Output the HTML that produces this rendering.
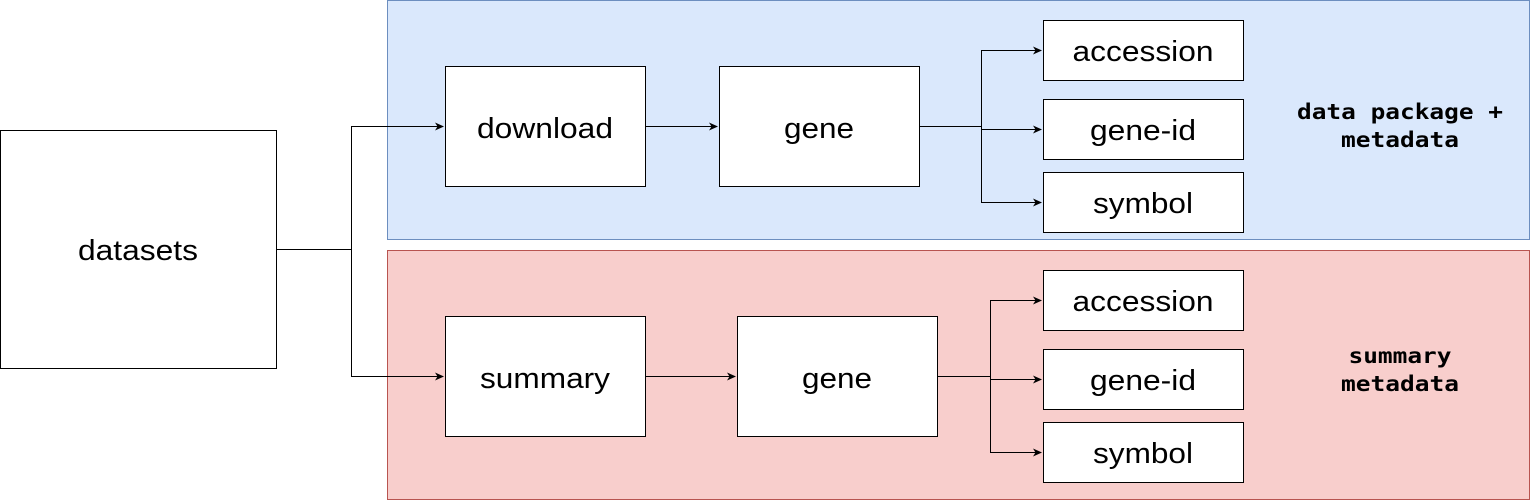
<!DOCTYPE html>
<html><head><meta charset="utf-8"><style>html,body{margin:0;padding:0;background:#fff}svg{display:block}</style></head>
<body>
<svg width="1531" height="501" viewBox="0 0 1531 501" xmlns="http://www.w3.org/2000/svg">
<defs><marker id="a" markerWidth="10" markerHeight="10" refX="8" refY="4" orient="auto" markerUnits="userSpaceOnUse"><path d="M0,0 L9,4 L0,8 L2.5,4 Z" fill="#000"/></marker></defs>
<rect x="387.5" y="0.5" width="1142" height="239" fill="#dae8fc" stroke="#6c8ebf"/>
<rect x="387.5" y="250.5" width="1142" height="249" fill="#f8cecc" stroke="#b85450"/>
<g fill="#fff" stroke="#000" stroke-width="1">
<rect x="0.5" y="130.5" width="276" height="238"/>
<rect x="445.5" y="66.5" width="200" height="120"/>
<rect x="719.5" y="66.5" width="200" height="120"/>
<rect x="1043.5" y="20.5" width="200" height="60"/>
<rect x="1043.5" y="99.5" width="200" height="60"/>
<rect x="1043.5" y="172.5" width="200" height="60"/>
<rect x="445.5" y="316.5" width="200" height="120"/>
<rect x="737.5" y="316.5" width="200" height="120"/>
<rect x="1043.5" y="270.5" width="200" height="60"/>
<rect x="1043.5" y="349.5" width="200" height="60"/>
<rect x="1043.5" y="422.5" width="200" height="60"/>
</g>
<g fill="none" stroke="#000" stroke-width="1">
<path d="M277 249.5 H351.5 V126.5 H443" marker-end="url(#a)"/>
<path d="M351.5 249.5 V376.5 H443" marker-end="url(#a)"/>
<path d="M646 126.5 H717" marker-end="url(#a)"/>
<path d="M920 126.5 H981.5 V50.5 H1041" marker-end="url(#a)"/>
<path d="M981.5 126.5 V129.5 H1041" marker-end="url(#a)"/>
<path d="M981.5 129.5 V202.5 H1041" marker-end="url(#a)"/>
<path d="M646 376.5 H735" marker-end="url(#a)"/>
<path d="M938 376.5 H990.5 V300.5 H1041" marker-end="url(#a)"/>
<path d="M990.5 376.5 V379.5 H1041" marker-end="url(#a)"/>
<path d="M990.5 379.5 V452.5 H1041" marker-end="url(#a)"/>
</g>
<g font-family="Liberation Sans, sans-serif" font-size="29" text-anchor="middle" fill="#000" lengthAdjust="spacingAndGlyphs">
<text x="138" y="260" textLength="120" lengthAdjust="spacingAndGlyphs">datasets</text>
<text x="545" y="138" textLength="136" lengthAdjust="spacingAndGlyphs">download</text>
<text x="819" y="138" textLength="70" lengthAdjust="spacingAndGlyphs">gene</text>
<text x="1143" y="61" textLength="141" lengthAdjust="spacingAndGlyphs">accession</text>
<text x="1143" y="140" textLength="106" lengthAdjust="spacingAndGlyphs">gene-id</text>
<text x="1143" y="213" textLength="100" lengthAdjust="spacingAndGlyphs">symbol</text>
<text x="545" y="388" textLength="130" lengthAdjust="spacingAndGlyphs">summary</text>
<text x="837" y="388" textLength="70" lengthAdjust="spacingAndGlyphs">gene</text>
<text x="1143" y="311" textLength="141" lengthAdjust="spacingAndGlyphs">accession</text>
<text x="1143" y="390" textLength="106" lengthAdjust="spacingAndGlyphs">gene-id</text>
<text x="1143" y="463" textLength="100" lengthAdjust="spacingAndGlyphs">symbol</text>
</g>
<g font-family="DejaVu Sans Mono, Liberation Mono, monospace" font-size="21" font-weight="bold" text-anchor="middle" fill="#000">
<text x="1400" y="119" textLength="206" lengthAdjust="spacingAndGlyphs">data package +</text>
<text x="1400" y="147" textLength="118" lengthAdjust="spacingAndGlyphs">metadata</text>
<text x="1400" y="363" textLength="103" lengthAdjust="spacingAndGlyphs">summary</text>
<text x="1400" y="391" textLength="118" lengthAdjust="spacingAndGlyphs">metadata</text>
</g>
</svg>
</body></html>
